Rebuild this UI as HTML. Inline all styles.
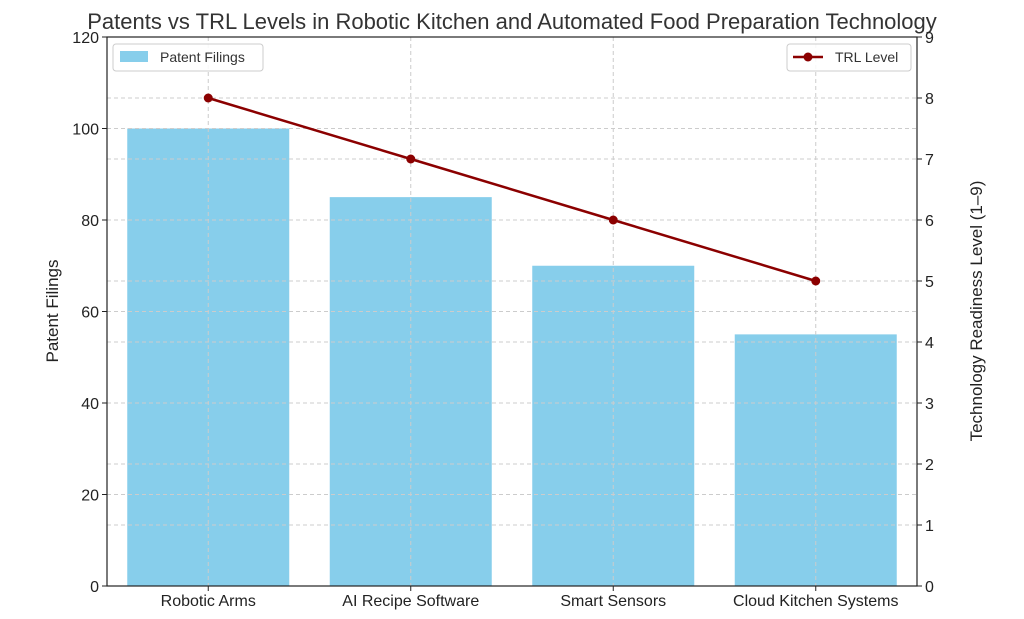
<!DOCTYPE html>
<html><head><meta charset="utf-8"><style>
body{margin:0;background:#fff;}
svg{display:block;font-family:"Liberation Sans","DejaVu Sans",sans-serif;}
</style></head><body>
<svg id="chart" width="1024" height="619">
<text x="512" y="29" text-anchor="middle" font-size="22" fill="#333">Patents vs TRL Levels in Robotic Kitchen and Automated Food Preparation Technology</text>
<g id="grid"></g><g id="bars"></g><g id="line"></g><g id="axes"></g>
</svg>
<script>
const categories=["Robotic Arms","AI Recipe Software","Smart Sensors","Cloud Kitchen Systems"];
const patents=[100,85,70,55];
const trl=[8,7,6,5];
const leftTicks=[0,20,40,60,80,100,120];
const rightTicks=[0,1,2,3,4,5,6,7,8,9];
const NS="http://www.w3.org/2000/svg";
const L=107,R=917,T=37,B=586;
const yL=v=>B-(v/120)*(B-T);
const yR=v=>B-(v/9)*(B-T);
const step=(R-L)/categories.length;
const xC=i=>L+step*(i+0.5);
function mk(parent,tag,attrs){const e=document.createElementNS(NS,tag);for(const k in attrs)e.setAttribute(k,attrs[k]);document.getElementById(parent).appendChild(e);return e;}
leftTicks.forEach(v=>{
 const g=mk('grid','line',{x1:L,x2:R,y1:yL(v),y2:yL(v),stroke:'#ccc','stroke-dasharray':'4,3','stroke-width':1});
 
 
 const t=mk('axes','text',{x:L-8,y:yL(v)+6,'text-anchor':'end','font-size':16,fill:'#222'});
 t.textContent=v;
 
 
 mk('axes','line',{x1:L-5,x2:L,y1:yL(v),y2:yL(v),stroke:'#222'});
});
rightTicks.forEach(v=>{
 const g=mk('grid','line',{x1:L,x2:R,y1:yR(v),y2:yR(v),stroke:'#ccc','stroke-dasharray':'4,3','stroke-width':1});
 
 
 const t=mk('axes','text',{x:R+8,y:yR(v)+6,'text-anchor':'start','font-size':16,fill:'#222'});
 t.textContent=v;
 
 
 mk('axes','line',{x1:R,x2:R+5,y1:yR(v),y2:yR(v),stroke:'#222'});
});
categories.forEach((c,i)=>{
 const g=mk('grid','line',{x1:xC(i),x2:xC(i),y1:T,y2:B,stroke:'#ccc','stroke-dasharray':'4,3'});
 
 
 const bw=step*0.8;
 const b=mk('bars','rect',{x:xC(i)-bw/2,y:yL(patents[i]),width:bw,height:B-yL(patents[i]),fill:'#87ceeb'});
 
 
 const t=mk('axes','text',{x:xC(i),y:B+20,'text-anchor':'middle','font-size':16,fill:'#222'});
 t.textContent=c;
 
 
 mk('axes','line',{x1:xC(i),x2:xC(i),y1:B,y2:B+5,stroke:'#222'});
});
// redraw grid above bars (matplotlib draws grid over bars here)
document.getElementById('chart').appendChild(document.getElementById('grid'));
document.getElementById('chart').appendChild(document.getElementById('line'));
document.getElementById('chart').appendChild(document.getElementById('axes'));
const pl=mk('line','polyline',{points:trl.map((v,i)=>xC(i)+','+yR(v)).join(' '),fill:'none',stroke:'#8b0000','stroke-width':2.5});


trl.forEach((v,i)=>{
 const c=mk('line','circle',{cx:xC(i),cy:yR(v),r:4.5,fill:'#8b0000'});
 
 
});
const fr=mk('axes','rect',{x:L,y:T,width:R-L,height:B-T,fill:'none',stroke:'#222','stroke-width':1.2});


</script>
<svg width="1024" height="619" style="position:absolute;left:0;top:0;font-family:'Liberation Sans','DejaVu Sans',sans-serif">
<text transform="translate(58,311) rotate(-90)" text-anchor="middle" font-size="17" fill="#222">Patent Filings</text>
<text transform="translate(982,311) rotate(-90)" text-anchor="middle" font-size="17" fill="#222">Technology Readiness Level (1–9)</text>
<g>
<rect x="113" y="44" width="150" height="27" rx="3" fill="#fff" fill-opacity="0.85" stroke="#ccc"/>
<rect x="120" y="51" width="28" height="11" fill="#87ceeb"/>
<text x="160" y="62" font-size="14" fill="#333">Patent Filings</text>
</g>
<g>
<rect x="787" y="44" width="124" height="27" rx="3" fill="#fff" fill-opacity="0.85" stroke="#ccc"/>
<line x1="793" y1="57" x2="823" y2="57" stroke="#8b0000" stroke-width="2.5"/>
<circle cx="808" cy="57" r="4.5" fill="#8b0000"/>
<text x="835" y="62" font-size="14" fill="#333">TRL Level</text>
</g>
</svg>
</body></html>
